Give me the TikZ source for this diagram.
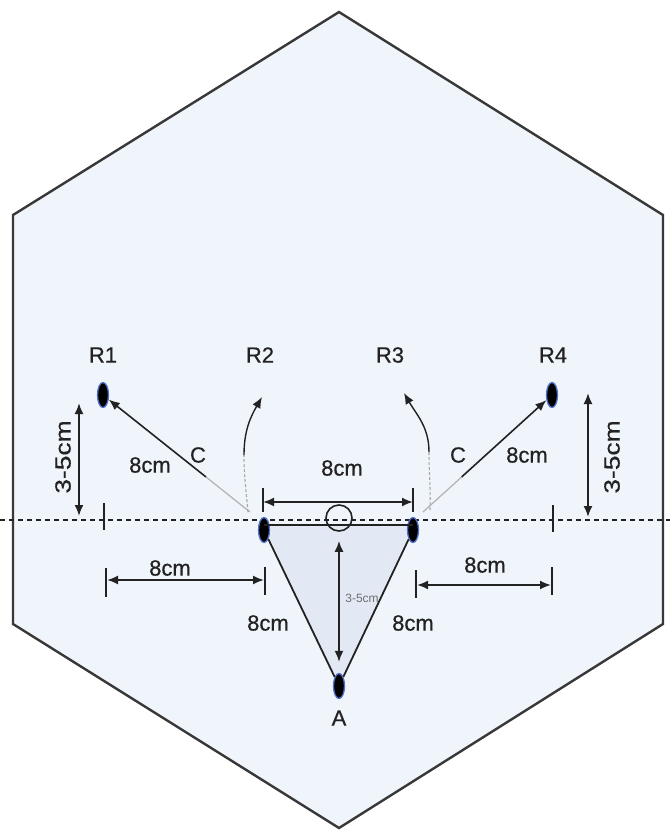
\documentclass[tikz,border=0pt]{standalone}
\usepackage{fontspec}
\setmainfont{Liberation Sans}
\newfontfamily\lblfont{Liberation Sans}[FakeBold=0.5]
\usetikzlibrary{arrows.meta,shapes.geometric,calc}
\definecolor{hexfill}{HTML}{F0F4FB}
\definecolor{trifill}{HTML}{E2E8F4}
\definecolor{ink}{HTML}{222222}
\definecolor{dotrim}{HTML}{5070C8}
\begin{document}
\begin{tikzpicture}[x=1pt,y=-1pt,
  dot/.style={ellipse, fill=black, draw=dotrim, line width=1.3pt, minimum width=11pt, minimum height=25pt, inner sep=0pt},
  lbl/.style={font=\lblfont\fontsize{22}{24}\selectfont, text=ink, inner sep=0pt},
  smalllbl/.style={font=\fontsize{12}{14}\selectfont, text=ink!65, inner sep=0pt},
  dim/.style={{Latex[length=11pt,width=9pt]}-{Latex[length=11pt,width=9pt]}, line width=1.9pt, draw=ink},
  arr/.style={-{Latex[length=11pt,width=9pt]}, line width=1.6pt, draw=ink},
  fadeline/.style={line width=1.2pt, draw=ink!35},
  tickline/.style={line width=1.9pt, draw=ink},
  ring/.style={circle, draw=ink, line width=1.6pt, minimum size=26pt, inner sep=0pt},
  ]
\useasboundingbox (0,0) rectangle (670,831);
\fill[white] (0,0) rectangle (670,831);
% hexagon
\draw[fill=hexfill, draw=ink!90, line width=2.4pt] (339,12) -- (663,215) -- (663,624) -- (339,828) -- (13,624) -- (13,215) -- cycle;
% triangle fill
\fill[trifill] (264,526) -- (413,526) -- (339,684) -- cycle;
% dashed baseline
\coordinate (dl) at (0,520);
\coordinate (dr) at (670,520);
\draw[ink, line width=1.6pt, dash pattern=on 5pt off 4pt] (dl) -- (dr);
% dots
\node[dot] (R1dot) at (103,395) {};
\node[dot] (R4dot) at (552,395) {};
\node[dot] (Ldot) at (264,530) {};
\node[dot] (Rdot) at (413,530) {};
\node[dot] (Adot) at (339,686) {};
% triangle edges
\draw[ink, line width=1.6pt] ([yshift=5pt]Ldot.center) -- ([yshift=5pt]Rdot.center);
\draw[ink, line width=1.8pt] (Ldot) -- (Adot);
\draw[ink, line width=1.8pt] (Rdot) -- (Adot);
% ring
\node[ring] (ring) at (339,518) {};
% labels
\node[lbl] (lR1) at (103,355) {R1};
\node[lbl] (lR2) at (260,355) {R2};
\node[lbl] (lR3) at (390,355) {R3};
\node[lbl] (lR4) at (553,355) {R4};
\node[lbl] (lA) at (339,718) {A};
% straight arrows to R1 and R4
\coordinate (sL) at (250,512);
\coordinate (sR) at (423,512);
\coordinate (mL) at ($(sL)!0.3!(R1dot)$);
\coordinate (mR) at ($(sR)!0.3!(R4dot)$);
\draw[fadeline] (sL) -- (mL);
\draw[arr] (mL) -- (R1dot);
\draw[fadeline] (sR) -- (mR);
\draw[arr] (mR) -- (R4dot);
\node[lbl] (l8a) at (150,465) {8cm};
\node[lbl] (lCa) at (198,455) {C};
\node[lbl] (lCb) at (458,455) {C};
\node[lbl] (l8b) at (527,455) {8cm};
% curved arrows to R2 and R3
\coordinate (c2a) at (248,512);
\coordinate (c2m) at (244,455);
\coordinate (c2t) at (262,397);
\draw[ink!40, line width=1.1pt, dash pattern=on 3pt off 2pt] (c2a) to[out=95,in=-90] (c2m);
\draw[arr, line width=1.4pt] (c2m) to[out=90,in=-120] (c2t);
\coordinate (c3a) at (430,510);
\coordinate (c3m) at (429,452);
\coordinate (c3t) at (404,393);
\draw[ink!40, line width=1.1pt, dash pattern=on 3pt off 2pt] (c3a) to[out=88,in=-90] (c3m);
\draw[arr, line width=1.4pt] (c3m) to[out=90,in=-60] (c3t);
% top 8cm dimension
\coordinate (t1a) at (263,488); \coordinate (t1b) at (263,512);
\coordinate (t2a) at (413,488); \coordinate (t2b) at (413,512);
\draw[tickline] (t1a) -- (t1b);
\draw[tickline] (t2a) -- (t2b);
\coordinate (d1a) at (263,502); \coordinate (d1b) at (413,502);
\draw[dim] (d1a) -- (d1b);
\node[lbl] (l8c) at (342,468) {8cm};
% inner vertical dimension
\draw[dim, shorten <=9pt, shorten >=11pt] (ring.south) -- (Adot.north);
\node[smalllbl] (l35c) at (362,598) {3-5cm};
% left vertical dimension
\coordinate (v1a) at (79,403); \coordinate (v1b) at (79,516);
\draw[dim] (v1a) -- (v1b);
\node[lbl, rotate=90] (l35a) at (63,457) {\scalebox{1.2}[1]{3-5cm}};
\coordinate (k1a) at (104,503); \coordinate (k1b) at (104,530);
\draw[tickline] (k1a) -- (k1b);
% right vertical dimension
\coordinate (v2a) at (588,393); \coordinate (v2b) at (588,517);
\draw[dim] (v2a) -- (v2b);
\node[lbl, rotate=90] (l35b) at (612,457) {\scalebox{1.2}[1]{3-5cm}};
\coordinate (k2a) at (553,505); \coordinate (k2b) at (553,532);
\draw[tickline] (k2a) -- (k2b);
% lower left dimension
\coordinate (p1a) at (106,568); \coordinate (p1b) at (106,597);
\coordinate (p2a) at (265,567); \coordinate (p2b) at (265,595);
\draw[tickline] (p1a) -- (p1b);
\draw[tickline] (p2a) -- (p2b);
\coordinate (e1a) at (107,580); \coordinate (e1b) at (264,580);
\draw[dim] (e1a) -- (e1b);
\node[lbl] (l8d) at (170,568) {8cm};
% lower right dimension
\coordinate (q1a) at (416,570); \coordinate (q1b) at (416,598);
\coordinate (q2a) at (552,567); \coordinate (q2b) at (552,595);
\draw[tickline] (q1a) -- (q1b);
\draw[tickline] (q2a) -- (q2b);
\coordinate (f1a) at (417,585); \coordinate (f1b) at (551,585);
\draw[dim] (f1a) -- (f1b);
\node[lbl] (l8e) at (485,565) {8cm};
% triangle side labels
\node[lbl] (l8f) at (268,623) {8cm};
\node[lbl] (l8g) at (413,623) {8cm};
\end{tikzpicture}
\end{document}
